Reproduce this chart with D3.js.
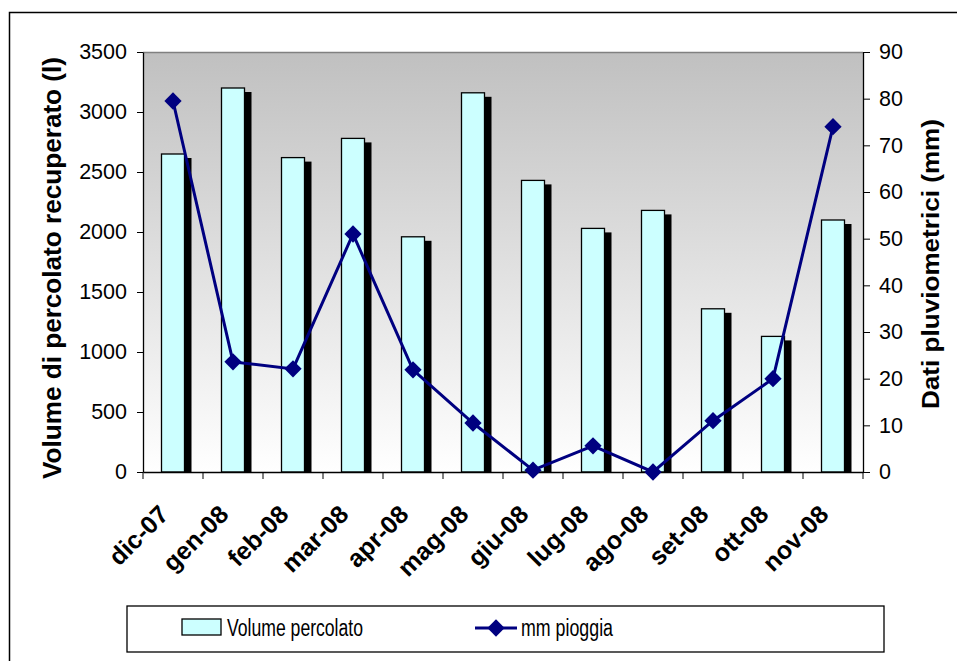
<!DOCTYPE html>
<html><head><meta charset="utf-8">
<script src="https://cdn.jsdelivr.net/npm/d3@7"></script>
<style>body{margin:0;background:#fff}svg{display:block}</style>
</head><body>
<script>
const months = ["dic-07","gen-08","feb-08","mar-08","apr-08","mag-08","giu-08","lug-08","ago-08","set-08","ott-08","nov-08"];
const volume = [2650,3200,2620,2780,1960,3160,2430,2030,2180,1360,1130,2100];
const rain = [79.5,23.6,22.1,51,21.9,10.5,0.4,5.6,0,11,20,74];
const leftTicks = [0,500,1000,1500,2000,2500,3000,3500];
const rightTicks = [0,10,20,30,40,50,60,70,80,90];

const W=957,H=661;
const svg=d3.select("body").append("svg").attr("width",W).attr("height",H);
const font="Arial, 'Liberation Sans', sans-serif";

// outer frame
svg.append("rect").attr("x",9.5).attr("y",12.5).attr("width",W+20).attr("height",H+20)
  .attr("fill","#fff").attr("stroke","#000").attr("stroke-width",1.5);

const L=143,R=863,T=52,B=472;
const x=d3.scaleBand().domain(months).range([L,R]);
const yL=d3.scaleLinear().domain([0,3500]).range([B,T]);
const yR=d3.scaleLinear().domain([0,90]).range([B,T]);

const defs=svg.append("defs");
const g=defs.append("linearGradient").attr("id","bg").attr("x1",0).attr("y1",0).attr("x2",0).attr("y2",1);
g.append("stop").attr("offset","0%").attr("stop-color","#c0c0c0");
g.append("stop").attr("offset","100%").attr("stop-color","#ffffff");

svg.append("rect").attr("x",L).attr("y",T).attr("width",R-L).attr("height",B-T).attr("fill","url(#bg)");
svg.append("line").attr("x1",L).attr("x2",R).attr("y1",T+0.5).attr("y2",T+0.5).attr("stroke","#808080").attr("stroke-width",1.5);

// bars
const bw=23;
const bars=svg.append("g");
bars.selectAll("rect.sh").data(volume).join("rect").attr("class","sh")
  .attr("x",(d,i)=>x(months[i])+x.bandwidth()/2-11.5+7).attr("y",d=>yL(d)+4)
  .attr("width",bw).attr("height",d=>B-yL(d)-4).attr("fill","#000");
bars.selectAll("rect.fr").data(volume).join("rect").attr("class","fr")
  .attr("x",(d,i)=>x(months[i])+x.bandwidth()/2-11.5).attr("y",d=>yL(d))
  .attr("width",bw).attr("height",d=>B-yL(d)).attr("fill","#ccffff").attr("stroke","#000").attr("stroke-width",1.3);

// axes
const axL=svg.append("g").attr("transform",`translate(${L},0)`)
  .call(d3.axisLeft(yL).tickValues(leftTicks).tickFormat(d3.format("d")).tickSize(6).tickSizeOuter(0).tickPadding(10));
const axR=svg.append("g").attr("transform",`translate(${R},0)`)
  .call(d3.axisRight(yR).tickValues(rightTicks).tickFormat(d3.format("d")).tickSize(7).tickSizeOuter(0).tickPadding(9));
const axB=svg.append("g").attr("transform",`translate(0,${B})`)
  .call(d3.axisBottom(x).tickSize(0).tickSizeOuter(0).tickFormat(""));
// category boundary ticks
svg.append("g").selectAll("line").data(months.concat(["end"])).join("line")
  .attr("x1",(d,i)=>L+i*x.step()).attr("x2",(d,i)=>L+i*x.step())
  .attr("y1",B).attr("y2",B+7).attr("stroke","#000");
[axL,axR,axB].forEach(a=>{a.selectAll("path").attr("stroke","#000").attr("stroke-width",1.3);
  a.selectAll("line").attr("stroke","#000");
  a.selectAll("text").attr("font-family",font).attr("font-size",21.5).attr("fill","#000");});

// x labels
svg.append("g").selectAll("text").data(months).join("text")
  .attr("transform",d=>`translate(${x(d)+x.bandwidth()/2-3},${B+44}) rotate(-45)`)
  .attr("text-anchor","end")
  .attr("font-family",font).attr("font-size",25).attr("font-weight","bold").text(d=>d);

// line
const line=d3.line().x((d,i)=>x(months[i])+x.bandwidth()/2).y(d=>yR(d));
svg.append("path").datum(rain).attr("d",line).attr("fill","none").attr("stroke","#000080").attr("stroke-width",3);
const diamond=d3.symbol().type(d3.symbolDiamond2).size(190);
svg.append("g").selectAll("path").data(rain).join("path")
  .attr("transform",(d,i)=>`translate(${x(months[i])+x.bandwidth()/2},${yR(d)})`)
  .attr("d",diamond).attr("fill","#000080");

// axis titles
svg.append("text").attr("transform",`translate(61,${(57+479)/2}) rotate(-90)`).attr("text-anchor","middle")
  .attr("font-family",font).attr("font-size",25).attr("font-weight","bold")
  .attr("textLength",422).attr("lengthAdjust","spacingAndGlyphs").text("Volume di percolato recuperato (l)");
svg.append("text").attr("transform",`translate(939,${(118+410)/2}) rotate(-90)`).attr("text-anchor","middle")
  .attr("font-family",font).attr("font-size",24).attr("font-weight","bold")
  .attr("textLength",290).attr("lengthAdjust","spacingAndGlyphs").text("Dati pluviometrici (mm)");

// legend
const lg=svg.append("g");
lg.append("rect").attr("x",127).attr("y",606).attr("width",757).attr("height",46)
  .attr("fill","#fff").attr("stroke","#000").attr("stroke-width",1.3);
lg.append("rect").attr("x",182).attr("y",619).attr("width",39).attr("height",16)
  .attr("fill","#ccffff").attr("stroke","#000").attr("stroke-width",1.3);
lg.append("text").attr("x",227).attr("y",636).attr("font-family",font).attr("font-size",23)
  .attr("textLength",136).attr("lengthAdjust","spacingAndGlyphs").text("Volume percolato");
lg.append("line").attr("x1",475).attr("x2",517).attr("y1",628).attr("y2",628).attr("stroke","#000080").attr("stroke-width",3);
lg.append("path").attr("transform","translate(496,628)").attr("d",diamond).attr("fill","#000080");
lg.append("text").attr("x",521).attr("y",636).attr("font-family",font).attr("font-size",23)
  .attr("textLength",92).attr("lengthAdjust","spacingAndGlyphs").text("mm pioggia");
</script>
</body></html>
